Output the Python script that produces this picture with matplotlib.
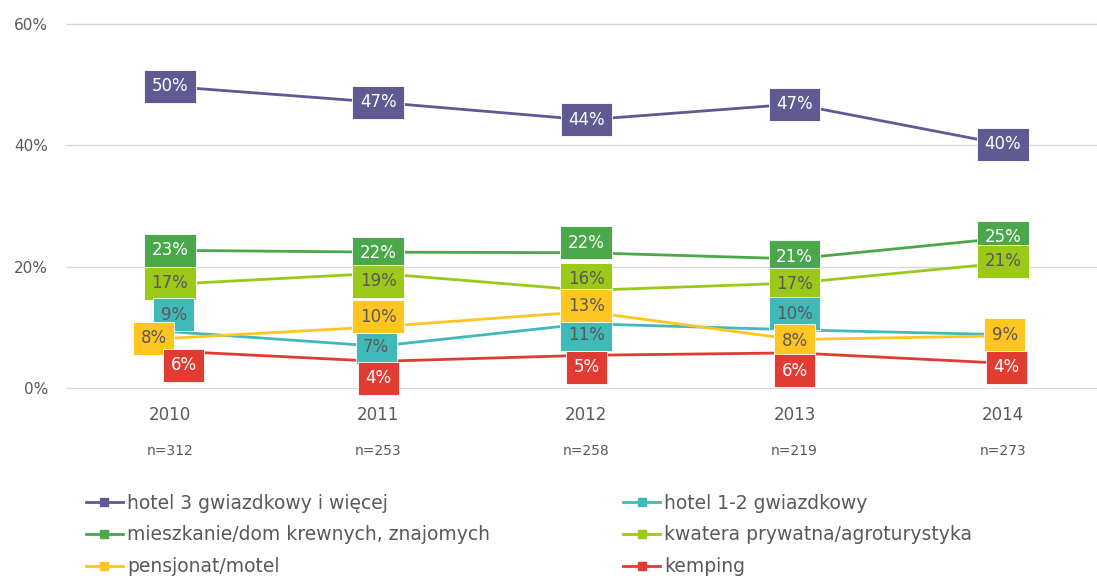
import matplotlib
matplotlib.use("Agg")
import matplotlib.pyplot as plt
from matplotlib.lines import Line2D

plt.rcParams['font.family'] = ['DejaVu Sans']

years = ["2010", "2011", "2012", "2013", "2014"]
sample_sizes = ["n=312", "n=253", "n=258", "n=219", "n=273"]

hotel3 = [49.7, 47.1, 44.2, 46.8, 40.2]
mieszkanie = [22.7, 22.4, 22.3, 21.3, 24.7]
kwatera = [17.1, 18.9, 16.1, 17.3, 20.6]
hotel12 = [9.3, 6.9, 10.6, 9.6, 8.8]
pensjonat = [8.2, 10.1, 12.6, 8.0, 8.6]
kemping = [6.1, 4.4, 5.4, 5.8, 4.1]

series = [
    ("hotel 3 gwiazdkowy i więcej", hotel3, "#5f5a92", "white"),
    ("mieszkanie/dom krewnych, znajomych", mieszkanie, "#4aa84a", "white"),
    ("kwatera prywatna/agroturystyka", kwatera, "#9bc91a", "#595959"),
    ("hotel 1-2 gwiazdkowy", hotel12, "#41b9b9", "#595959"),
    ("pensjonat/motel", pensjonat, "#ffc521", "#595959"),
    ("kemping", kemping, "#e03c31", "white"),
]

# label offsets in pixels (dx, dy) to keep boxes from overlapping, None = no label
offsets = {
    "hotel 3 gwiazdkowy i więcej": [(0, 0)] * 5,
    "mieszkanie/dom krewnych, znajomych": [(0, 0), (0, -1), (0, 10), (0, 2), (0, 1)],
    "kwatera prywatna/agroturystyka": [(0, 1), (0, -8), (0, 11), (0, -1), (0, 2)],
    "hotel 1-2 gwiazdkowy": [(4, 17), (-2, -1), (0, -11), (0, 16), None],
    "pensjonat/motel": [(-16, 0), (0, 10), (0, 6), (0, -1), (2, 1)],
    "kemping": [(14, -14), (0, -17), (0, -12), (0, -18), (4, -4)],
}

fig = plt.figure(figsize=(10.97, 5.76), dpi=100)
ax = fig.add_axes([0.060, 0.3247, 0.949, 0.6353])

x = list(range(len(years)))
for name, vals, col, tcol in series:
    ax.plot(x, vals, color=col, lw=2.0, zorder=3)

for name, vals, col, tcol in series:
    for i, v in enumerate(vals):
        off = offsets[name][i]
        if off is None:
            continue
        ax.annotate(f"{v:.0f}%", (i, v), xytext=(off[0] * 0.72, off[1] * 0.72),
                    textcoords='offset points', ha='center', va='center',
                    fontsize=12, color=tcol, zorder=5,
                    bbox=dict(boxstyle='square,pad=0.45', fc=col, ec='white', lw=0.6))

ax.set_xlim(-0.5, 4.5)
ax.set_ylim(-0.15, 60.15)
ax.set_yticks([0, 20, 40, 60])
ax.set_yticklabels(["0%", "20%", "40%", "60%"])
ax.grid(axis='y', color='#d9d9d9', lw=1)
ax.set_axisbelow(True)
for s in ax.spines.values():
    s.set_visible(False)
ax.tick_params(axis='y', length=0, pad=13, labelsize=11, labelcolor='#595959')
ax.set_xticks(x)
ax.set_xticklabels([])
ax.tick_params(axis='x', length=0)
for i in x:
    ax.annotate(years[i], (i, 0), xytext=(0, -27 * 0.72), textcoords='offset points',
                ha='center', va='center', fontsize=12, color='#595959')
    ax.annotate(sample_sizes[i], (i, 0), xytext=(0, -63 * 0.72), textcoords='offset points',
                ha='center', va='center', fontsize=10, color='#595959')

order = [0, 1, 4, 3, 2, 5]
handles = [Line2D([], [], color=series[k][2], lw=2, marker='s', ms=6) for k in order]
labels = [series[k][0] for k in order]
fig.legend(handles, labels, loc='upper left', bbox_to_anchor=(0.078, 0.143), ncol=2,
           frameon=False, fontsize=13.5, labelcolor='#595959', handlelength=2.0,
           handletextpad=0.2, columnspacing=7.1, labelspacing=0.68, borderaxespad=0,
           borderpad=0)

fig.savefig("out.png", dpi=100)
